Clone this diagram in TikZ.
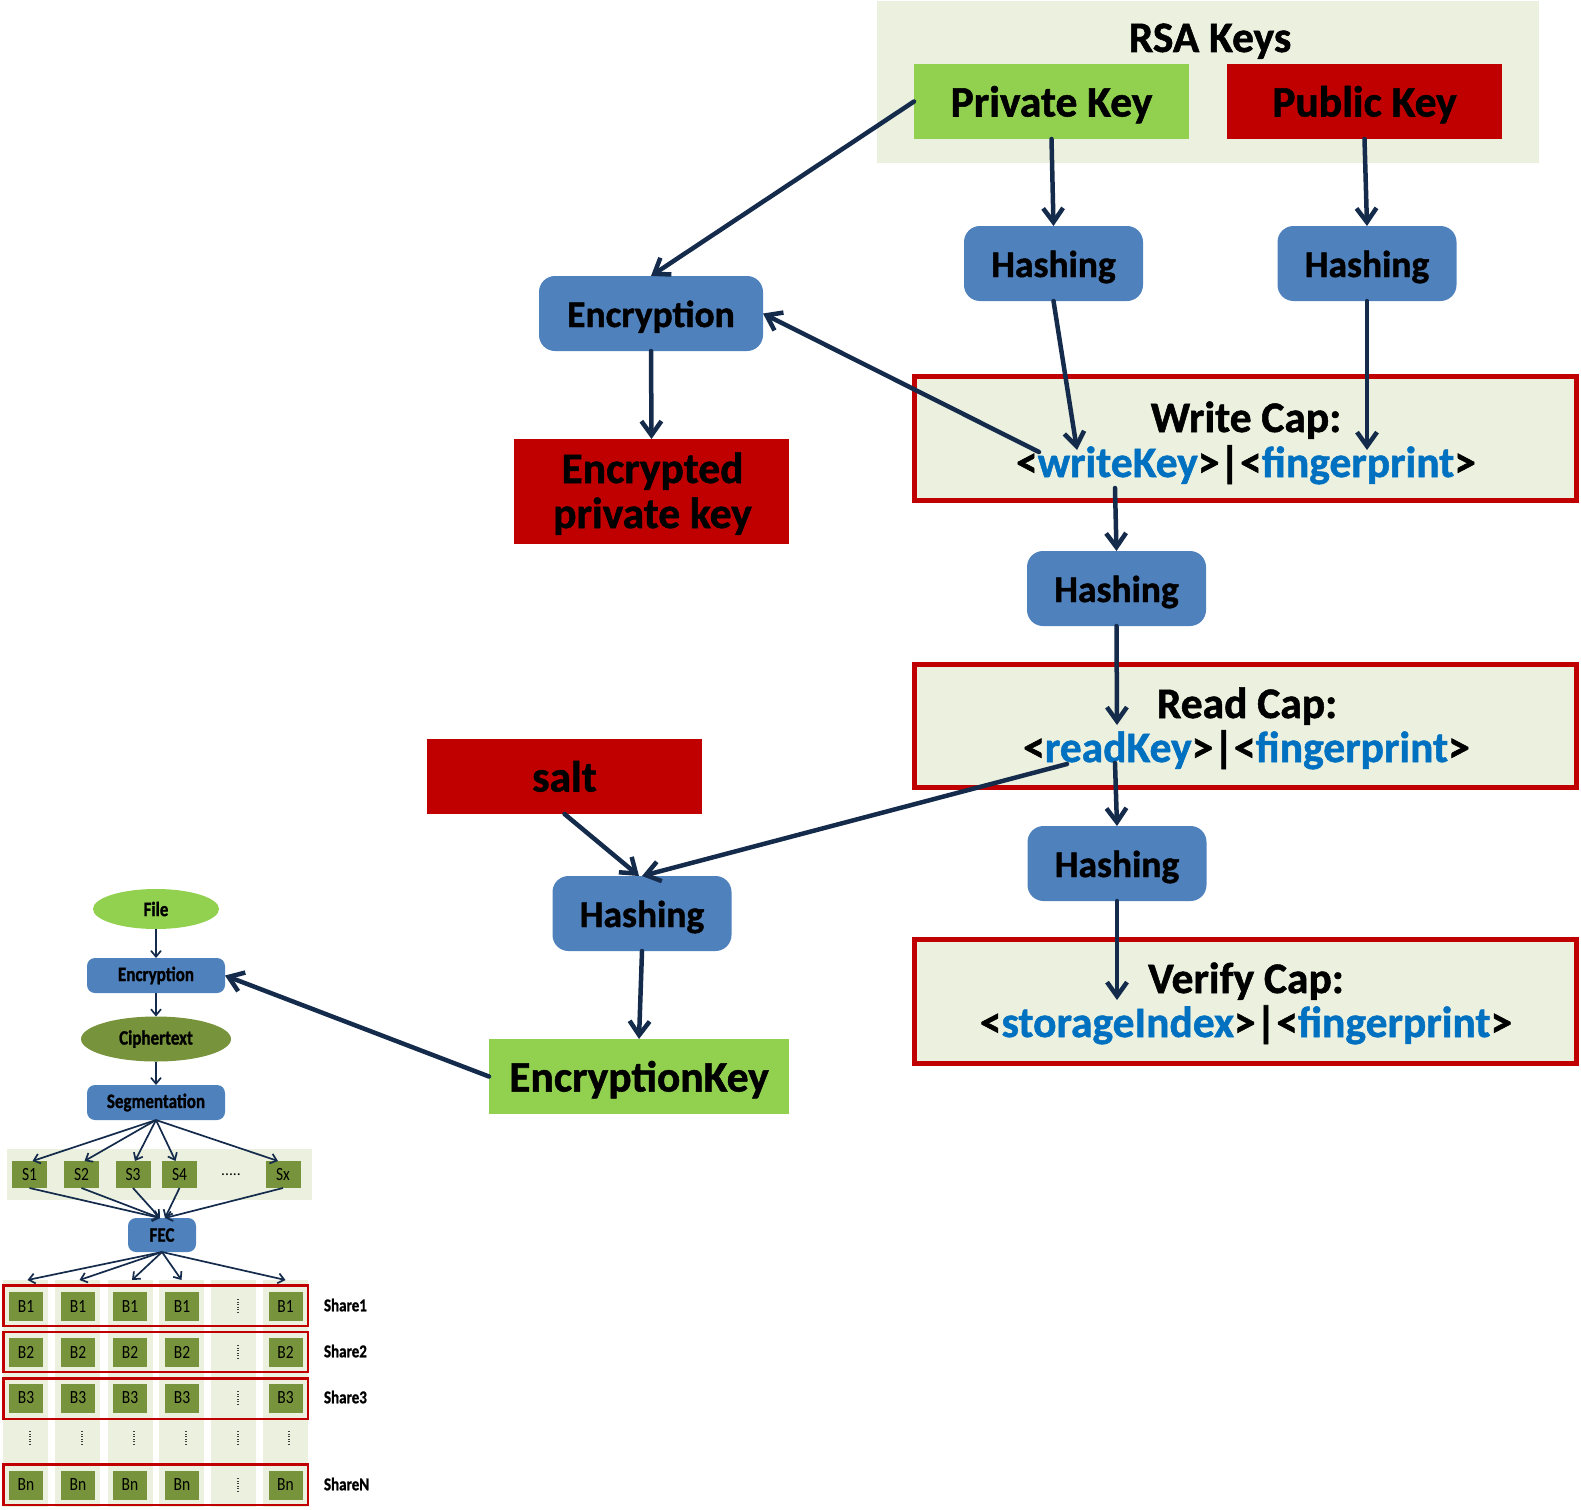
\documentclass[tikz,border=0pt]{standalone}
\usepackage{fontspec}
\setmainfont[BoldFeatures={FakeBold=1.2}]{Carlito}
\usepackage{graphicx}
\usetikzlibrary{arrows.meta,shapes.geometric}
\definecolor{kbg}{HTML}{EBF1DE}
\definecolor{kgreen}{HTML}{92D050}
\definecolor{kred}{HTML}{C00000}
\definecolor{kblue}{HTML}{4F81BD}
\definecolor{kolive}{HTML}{77933C}
\definecolor{ktxt}{HTML}{0070C0}
\definecolor{knavy}{HTML}{142B4C}
\newcommand\keyfont{\fontsize{43.5}{46}\selectfont\bfseries}
\newcommand\procfont{\fontsize{37.5}{40}\selectfont\bfseries}
\newcommand\smallbf{\fontsize{17}{18}\selectfont\bfseries}
\newcommand\smallrm{\fontsize{15.5}{17}\selectfont}
\newcommand\sharefont{\fontsize{15}{16}\selectfont\bfseries}
\newcommand\vstr[1]{\scalebox{1}[1.2]{#1}}
\newcommand\bluetxt[1]{\textcolor{ktxt}{#1}}
\tikzset{
  plain/.style={inner sep=0pt, outer sep=0pt},
  keytxt/.style={plain, font=\keyfont},
  keybox/.style={plain, minimum width=275pt, minimum height=75pt, font=\keyfont, text height=30pt, text depth=0pt},
  greenbox/.style={keybox, fill=kgreen},
  redbox/.style={keybox, fill=kred},
  bgbox/.style={plain, fill=kbg},
  procbox/.style={plain, fill=kblue, rounded corners=16pt, minimum width=179pt, minimum height=75pt, font=\procfont, text height=27pt, text depth=0pt},
  capbox/.style={plain, draw=kred, line width=5pt, fill=kbg, minimum width=662pt, minimum height=124pt},
  arr/.style={draw=knavy, line width=4.5pt, line cap=round, -{Straight Barb[length=14pt,width=20pt]}},
  sarr/.style={draw=knavy, line width=1.7pt, -{Straight Barb[length=6pt,width=10pt]}},
  sproc/.style={plain, fill=kblue, rounded corners=8pt, minimum width=138pt, minimum height=35pt, font=\smallbf},
  sell/.style={plain, ellipse, font=\smallbf},
  sbox/.style={plain, fill=kolive, minimum width=35pt, minimum height=27pt, font=\smallrm},
  bbox/.style={plain, fill=kolive, minimum width=34pt, minimum height=29pt, font=\smallrm},
  colstrip/.style={plain, fill=kbg, minimum width=45pt, minimum height=227pt},
  rowbox/.style={plain, draw=kred, line width=2.5pt, minimum width=304.5pt, minimum height=40.5pt},
  sharelbl/.style={plain, anchor=west, font=\sharefont},
  vdots/.style={draw=black!75, line width=1.3pt, dash pattern=on 1.1pt off 1.4pt}
}
\begin{document}
\begin{tikzpicture}[x=1pt,y=-1pt]
\useasboundingbox (0,0) rectangle (1581,1509);

% ---------- main diagram ----------
\node[bgbox, minimum width=662pt, minimum height=162pt] (rsa) at (1208,82) {};
\node[keytxt, anchor=base] (rsaT) at (1210,52) {RSA Keys};
\node[greenbox] (pk) at (1051.5,101.5) {Private Key};
\node[redbox] (pub) at (1364.5,101.5) {Public Key};
\node[procbox] (h1) at (1053.5,263.5) {Hashing};
\node[procbox] (h2) at (1367,263.5) {Hashing};
\node[procbox, minimum width=224pt] (enc) at (651,313.5) {Encryption};
\node[redbox, minimum height=105pt] (epk) at (651.5,491.5) {};
\node[keytxt, anchor=base] (epkA) at (652.5,483) {Encrypted};
\node[keytxt, anchor=base] (epkB) at (652.5,528) {private key};

\node[capbox] (wc) at (1245.5,438.5) {};
\node[keytxt, anchor=base] (wcT) at (1246,432) {Write Cap:};
\node[keytxt, anchor=base] (wcL) at (1246,477) {<\bluetxt{writeKey}>|<\bluetxt{fingerprint}>};
\node[procbox] (h3) at (1116.5,588.5) {Hashing};
\node[capbox, minimum height=123pt] (rc) at (1245.5,726) {};
\node[keytxt, anchor=base] (rcT) at (1247,718) {Read Cap:};
\node[keytxt, anchor=base] (rcL) at (1246.5,762) {<\bluetxt{readKey}>|<\bluetxt{fingerprint}>};
\node[redbox] (salt) at (564.5,776.5) {salt};
\node[procbox] (h4) at (1117,863.5) {Hashing};
\node[procbox] (h5) at (642,913.5) {Hashing};
\node[capbox] (vc) at (1245.5,1001.5) {};
\node[keytxt, anchor=base] (vcT) at (1246,993) {Verify Cap:};
\node[keytxt, anchor=base] (vcL) at (1246,1037) {<\bluetxt{storageIndex}>|<\bluetxt{fingerprint}>};
\node[greenbox, minimum width=300pt] (ek) at (639,1076.5) {EncryptionKey};

\coordinate (wkIn) at (1077,450);
\coordinate (fpIn) at (1367,450);
\coordinate (wkOut) at (1039,452);
\coordinate (wcOut) at (1115,488);
\coordinate (rcIn) at (1117,725);
\coordinate (rkOut) at (1067,764);
\coordinate (rcOut) at (1115,763);
\coordinate (vcIn) at (1117,1000);

% ---------- small diagram ----------
\node[sell, fill=kgreen, minimum width=126pt, minimum height=40pt] (file) at (156,909) {\vstr{File}};
\node[sproc] (senc) at (156,975.5) {\vstr{Encryption}};
\node[sell, fill=kolive, minimum width=150pt, minimum height=45pt] (ciph) at (156,1039) {\vstr{Ciphertext}};
\node[sproc] (seg) at (156,1102.5) {\vstr{Segmentation}};
\node[bgbox, minimum width=305pt, minimum height=51pt] (srow) at (159.5,1174.5) {};
\node[sbox] (s1) at (29.5,1174.5) {\vstr{S1}};
\node[sbox] (s2) at (81.5,1174.5) {\vstr{S2}};
\node[sbox] (s3) at (133,1174.5) {\vstr{S3}};
\node[sbox] (s4) at (179.5,1174.5) {\vstr{S4}};
\node[plain, font=\smallrm] (sdots) at (231,1175) {.....};
\node[sbox] (sx) at (283,1174.5) {\vstr{Sx}};
\node[sproc, minimum width=68pt, minimum height=34pt] (fec) at (162,1235) {\vstr{FEC}};

\foreach \i/\x in {1/25.5,2/77.5,3/130,4/181.5,5/233.5,6/285.5}
  \node[colstrip] (col\i) at (\x,1393.5) {};
\node[rowbox] (row1) at (155.5,1305.5) {};
\node[rowbox, minimum height=40pt] (row2) at (155.5,1352) {};
\node[rowbox] (row3) at (155.5,1398.5) {};
\node[rowbox] (rowN) at (155.5,1484.5) {};
\foreach \r/\y/\t in {1/1306/B1,2/1352/B2,3/1398/B3,N/1485/Bn}{
  \foreach \c/\x in {1/26,2/78,3/130,4/182,6/285.5}
    \node[bbox] (b\r\c) at (\x,\y) {\vstr{\t}};
  \draw[vdots] (238,\y-7) -- (238,\y+7);
}
\foreach \x in {30,82,134,186,238,289}
  \draw[vdots] (\x,1431) -- (\x,1445);
\node[sharelbl] (sh1) at (324,1305) {\vstr{Share1}};
\node[sharelbl] (sh2) at (324,1351) {\vstr{Share2}};
\node[sharelbl] (sh3) at (324,1397) {\vstr{Share3}};
\node[sharelbl] (shN) at (324,1484) {\vstr{ShareN}};

% ---------- connectors ----------
\draw[arr] (pk.west) -- (enc.north);
\draw[arr] (pk.south) -- (h1.north);
\draw[arr] (pub.south) -- (h2.north);
\draw[arr] (h1.south) -- (wkIn);
\draw[arr] (h2.south) -- (fpIn);
\draw[arr] (wkOut) -- (enc.east);
\draw[arr] (enc.south) -- (epk.north);
\draw[arr] (wcOut) -- (h3.north);
\draw[arr] (h3.south) -- (rcIn);
\draw[arr] (rkOut) -- (h5.north);
\draw[arr] (rcOut) -- (h4.north);
\draw[arr] (salt.south) -- ([xshift=-3pt]h5.north);
\draw[arr] (h4.south) -- (vcIn);
\draw[arr] (h5.south) -- (ek.north);
\draw[arr] (ek.west) -- (senc.east);

\draw[sarr] (file.south) -- (senc.north);
\draw[sarr] (senc.south) -- (ciph.north);
\draw[sarr] (ciph.south) -- (seg.north);
\draw[sarr] (seg.south) -- ([xshift=3pt]s1.north);
\draw[sarr] (seg.south) -- ([xshift=3pt]s2.north);
\draw[sarr] (seg.south) -- ([xshift=2pt]s3.north);
\draw[sarr] (seg.south) -- ([xshift=-4pt]s4.north);
\draw[sarr] (seg.south) -- ([xshift=-5pt]sx.north);
\draw[sarr] (s1.south) -- ([xshift=-2pt]fec.north);
\draw[sarr] (s2.south) -- ([xshift=-2pt]fec.north);
\draw[sarr] (s3.south) -- ([xshift=-2pt]fec.north);
\draw[sarr] (s4.south) -- ([xshift=3pt]fec.north);
\draw[sarr] (sx.south) -- ([xshift=3pt]fec.north);
\draw[sarr] (fec.south) -- ([xshift=2pt]col1.north);
\draw[sarr] (fec.south) -- ([xshift=2pt]col2.north);
\draw[sarr] (fec.south) -- ([xshift=2pt]col3.north);
\draw[sarr] (fec.south) -- (col4.north);
\draw[sarr] (fec.south) -- (col6.north);
\end{tikzpicture}
\end{document}
